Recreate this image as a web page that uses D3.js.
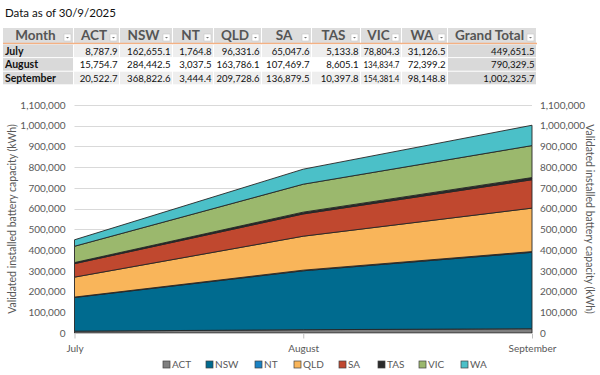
<!DOCTYPE html>
<html>
<head>
<meta charset="utf-8">
<script src="https://cdn.jsdelivr.net/npm/d3@7"></script>
<style>
  body { margin: 0; background: #fff; }
  svg { font-family: Lato, "Liberation Sans", sans-serif; }
</style>
</head>
<body>
<div id="chart"></div>
<script>
const months = ["July", "August", "September"];
const states = ["ACT", "NSW", "NT", "QLD", "SA", "TAS", "VIC", "WA"];
const ACT = [8787.9, 15754.7, 20522.7];
const NSW = [162655.1, 284442.5, 368822.6];
const NT = [1764.8, 3037.5, 3444.4];
const QLD = [96331.6, 163786.1, 209728.6];
const SA = [65047.6, 107469.7, 136879.5];
const TAS = [5133.8, 8605.1, 10397.8];
const VIC = [78804.3, 134834.7, 154381.4];
const WA = [31126.5, 72399.2, 98148.8];
const grandTotal = [449651.5, 790329.5, 1002325.7];
const yTicks = [0, 100000, 200000, 300000, 400000, 500000, 600000, 700000, 800000, 900000, 1000000, 1100000];
const colors = ["#7f7f7f", "#006b8f", "#1a82c4", "#f9b55a", "#c0482f", "#2b2b2b", "#9bb86d", "#4bc0c8"];

const seriesVals = { ACT, NSW, NT, QLD, SA, TAS, VIC, WA };
const rows = months.map((m, i) => {
  const r = { month: m };
  states.forEach(s => r[s] = seriesVals[s][i]);
  r.total = grandTotal[i];
  return r;
});

const W = 600, H = 375;
const svg = d3.select("#chart").append("svg")
  .attr("width", W).attr("height", H);

// ---- title line
svg.append("text")
  .attr("x", 5).attr("y", 17)
  .style("font-size", "11.5px")
  .attr("fill", "#111")
  .text("Data as of 30/9/2025");

// ---- table
const colEdges = [3, 74, 120, 173, 214, 262, 312, 361, 402, 448, 537];
const headers = ["Month"].concat(states, ["Grand Total"]);
const headTop = 28, headBot = 43, rowH = 13.6;
const fmt = d3.format(",.1f");

const tbl = svg.append("g");
// header background
headers.forEach((h, j) => {
  const x0 = colEdges[j], x1 = colEdges[j + 1];
  tbl.append("rect")
    .attr("x", x0).attr("y", headTop)
    .attr("width", x1 - x0 - 1).attr("height", headBot - headTop)
    .attr("fill", "#dddddd");
  tbl.append("text")
    .attr("x", (x0 + x1) / 2 - 3).attr("y", headBot - 3)
    .attr("text-anchor", "middle")
    .style("font-size", "13.5px").style("font-weight", "bold")
    .attr("fill", "#555")
    .text(h);
  // filter dropdown button
  tbl.append("rect")
    .attr("x", x1 - 10).attr("y", headBot - 9)
    .attr("width", 7).attr("height", 7)
    .attr("fill", "#fff").attr("stroke", "#c8c8c8").attr("stroke-width", 0.6);
  tbl.append("path")
    .attr("d", `M${x1 - 8},${headBot - 6}l1.5,1.5l1.5,-1.5z`)
    .attr("fill", "#777");
});
tbl.append("line")
  .attr("x1", colEdges[0]).attr("x2", colEdges[colEdges.length - 1])
  .attr("y1", headBot + 0.5).attr("y2", headBot + 0.5)
  .attr("stroke", "#f4b183").attr("stroke-width", 1.5);

rows.forEach((r, i) => {
  const y0 = headBot + 1.5 + i * rowH;
  const vals = [r.month].concat(states.map(s => r[s]), [r.total]);
  vals.forEach((v, j) => {
    const x0 = colEdges[j], x1 = colEdges[j + 1];
    let fill = i === 1 ? "#ffffff" : "#eeeeee";
    if (j === 0 || j === vals.length - 1) fill = "#d9d9d9";
    tbl.append("rect")
      .attr("x", x0).attr("y", y0)
      .attr("width", x1 - x0 - 1).attr("height", rowH - 1)
      .attr("fill", fill);
    const t = tbl.append("text")
      .attr("x", j === 0 ? x0 + 2 : x1 - 2.5)
      .attr("y", y0 + rowH - 3.5)
      .attr("text-anchor", j === 0 ? "start" : "end")
      .style("font-size", j === 0 ? "10.5px" : "9.6px")
      .style("font-weight", j === 0 ? "bold" : "normal")
      .attr("fill", "#111")
      .text(j === 0 ? v : fmt(v));
    // squeeze numbers that would spill into the neighbouring cell
    const maxW = x1 - x0 - 5;
    if (t.node().getComputedTextLength() > maxW) {
      t.attr("textLength", maxW).attr("lengthAdjust", "spacingAndGlyphs");
    }
  });
});

// ---- chart
const x = d3.scalePoint().domain(months).range([74.5, 532]);
const y = d3.scaleLinear().domain([0, 1100000]).range([333, 105]);

const grid = svg.append("g");
grid.selectAll("line").data(yTicks.slice(1)).join("line")
  .attr("x1", 74.5).attr("x2", 532)
  .attr("y1", d => Math.round(y(d)) + 0.5).attr("y2", d => Math.round(y(d)) + 0.5)
  .attr("stroke", "#d9d9d9");

const stack = d3.stack().keys(states)(rows);
const area = d3.area()
  .x(d => x(d.data.month))
  .y0(d => y(d[0]))
  .y1(d => y(d[1]));

svg.append("g").selectAll("path").data(stack).join("path")
  .attr("d", area)
  .attr("fill", (d, i) => colors[i])
  .attr("stroke", "#262626")
  .attr("stroke-width", 0.9)
  .attr("stroke-linejoin", "round");

// axes
const axisColor = "#595959";
const axisFont = "10px";
const leftAxis = svg.append("g")
  .attr("transform", "translate(74.5,0)")
  .call(d3.axisLeft(y).tickValues(yTicks).tickFormat(d3.format(",")).tickSize(0).tickPadding(9));
const rightAxis = svg.append("g")
  .attr("transform", "translate(532,0)")
  .call(d3.axisRight(y).tickValues(yTicks).tickFormat(d3.format(",")).tickSize(0).tickPadding(8));
[leftAxis, rightAxis].forEach(a => {
  a.select(".domain").remove();
  a.selectAll("text").style("font-size", axisFont).attr("fill", axisColor)
    .style("font-family", "Lato, 'Liberation Sans', sans-serif");
});

const bottomAxis = svg.append("g")
  .attr("transform", "translate(0,333.5)")
  .call(d3.axisBottom(x).tickSize(5).tickPadding(6));
bottomAxis.select(".domain").attr("stroke", "#bfbfbf").attr("d", "M74.5,0H532");
bottomAxis.selectAll("line").attr("stroke", "#bfbfbf");
bottomAxis.selectAll("text").style("font-size", axisFont).attr("fill", axisColor)
  .style("font-family", "Lato, 'Liberation Sans', sans-serif");

// axis titles
svg.append("text")
  .attr("transform", "translate(16,219) rotate(-90)")
  .attr("text-anchor", "middle")
  .style("font-size", "10.5px").attr("fill", axisColor)
  .text("Validated installed battery capacity (kWh)");
svg.append("text")
  .attr("transform", "translate(586,219) rotate(90)")
  .attr("text-anchor", "middle")
  .style("font-size", "10.5px").attr("fill", axisColor)
  .text("Validated installed battery capacity (kWh)");

// legend
const legendX = [163, 206, 255, 294, 339, 378, 419, 461];
const lg = svg.append("g").selectAll("g").data(states).join("g")
  .attr("transform", (d, i) => `translate(${legendX[i]},368)`);
lg.append("rect")
  .attr("x", 0).attr("y", -7).attr("width", 7).attr("height", 7)
  .attr("fill", (d, i) => colors[i])
  .attr("stroke", "#404040").attr("stroke-width", 0.7);
lg.append("text")
  .attr("x", 9).attr("y", 0)
  .style("font-size", "10px").attr("fill", axisColor)
  .text(d => d);
</script>
</body>
</html>
